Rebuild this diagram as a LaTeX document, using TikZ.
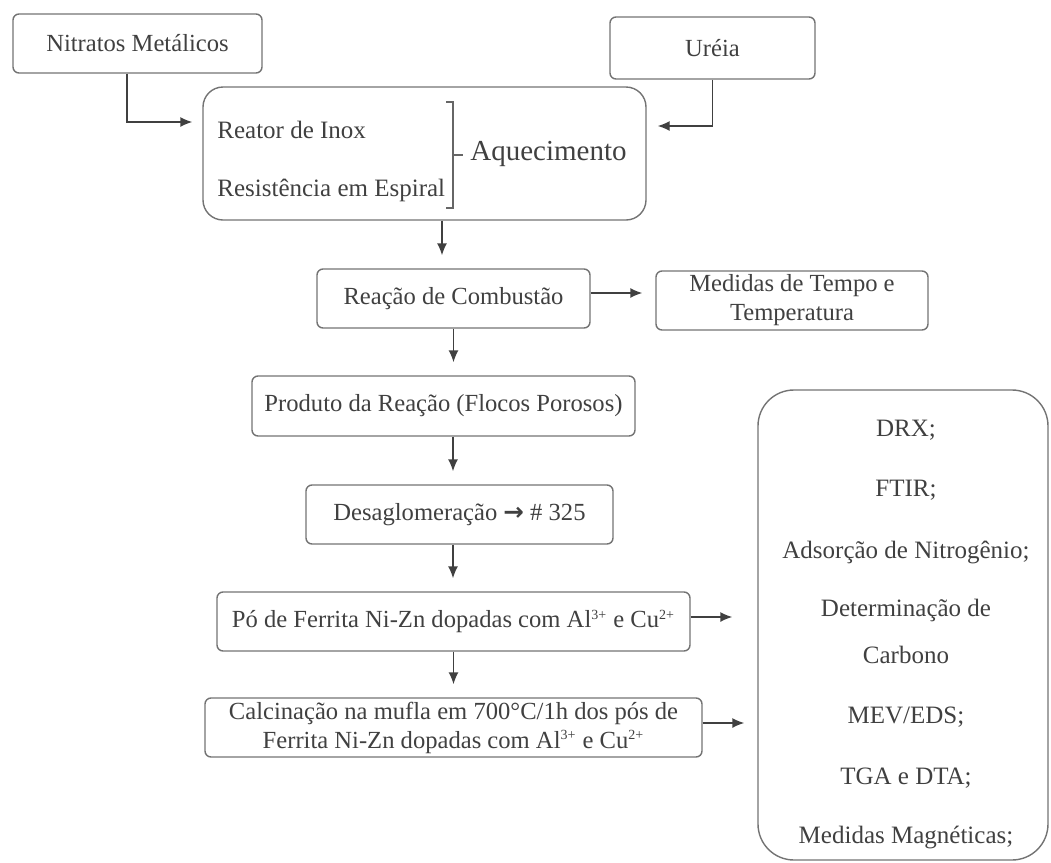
\documentclass[tikz,border=0pt]{standalone}
\usepackage{fontspec}
\setmainfont{Liberation Serif}
\newfontfamily\arrowfont{DejaVu Sans}
\usetikzlibrary{arrows.meta}
\usetikzlibrary{positioning}
\newcommand{\ionch}[1]{\textsuperscript{\scriptsize #1}}
\tikzstyle{stepbox}=[draw=black!55,line width=0.7pt,rounded corners=3pt,align=center,inner sep=0pt,text=black!75,font=\fontsize{12.3}{14.5}\selectfont]
\tikzstyle{heatbox}=[stepbox,rounded corners=10pt]
\tikzstyle{listbox}=[stepbox,rounded corners=18pt]
\tikzstyle{plaintext}=[inner sep=0pt,text=black!75,font=\fontsize{12.5}{14.5}\selectfont]
\tikzstyle{flow}=[draw=black!75,line width=0.7pt,-{Latex[length=6pt,width=5pt]},shorten >=6.5pt]
\tikzstyle{brace}=[draw=black!60,line width=0.7pt]

\begin{document}
\begin{tikzpicture}[x=0.5pt,y=-0.5pt]
    \useasboundingbox (0,0) rectangle (1051,863);
    % The inputs and the heating step
    \node[stepbox,minimum width=124.5pt,minimum height=29.5pt] (nitratos) at (137.5,43.5) {Nitratos Metálicos};
    \node[stepbox,minimum width=102.5pt,minimum height=31pt] (ureia) at (712.5,48) {Uréia};
    \node[heatbox,minimum width=221.5pt,minimum height=66.5pt] (aquec) at (424.5,153.5) {};
    \node[plaintext,anchor=west] (reator) at (217,130) {Reator de Inox};
    \node[plaintext,anchor=west] (resist) at (217,190) {Resistência em Espiral};
    \node[plaintext,anchor=west,font=\fontsize{14.5}{16}\selectfont] (aquecimento) at (470,154) {Aquecimento};
    \draw[brace] (446,102) -- (453,102) -- (453,208) -- (446,208);
    \draw[brace] (453,155) -- (463,155);

    % The main chain
    \node[stepbox,minimum width=136.5pt,minimum height=29.5pt] (combustao) at (453.5,298.5) {Reação de Combustão};
    \node[stepbox,minimum width=136pt,minimum height=29.5pt] (medidas) at (792,300.5) {Medidas de Tempo e\\Temperatura};
    \node[stepbox,minimum width=191.5pt,minimum height=30pt] (produto) at (443.5,406) {Produto da Reação (Flocos Porosos)};
    \node[stepbox,minimum width=153.5pt,minimum height=29.5pt] (desaglo) at (459.5,514.5) {Desaglomeração {\arrowfont\bfseries →} \# 325};
    \node[stepbox,minimum width=236.5pt,minimum height=29.5pt] (po) at (453.5,621.5) {Pó de Ferrita Ni-Zn dopadas com Al\ionch{3+} e Cu\ionch{2+}};
    \node[stepbox,minimum width=248.5pt,minimum height=29.5pt] (calc) at (453.5,727.5) {Calcinação na mufla em 700°C/1h dos pós de\\Ferrita Ni-Zn dopadas com Al\ionch{3+} e Cu\ionch{2+}};

    % The characterizations
    \node[listbox,minimum width=145pt,minimum height=235pt] (analises) at (903,625) {};
    \foreach \ypos/\name/\txt in {430/drx/{DRX;}, 490/ftir/{FTIR;}, 552/adsorcao/{Adsorção de Nitrogênio;}, 610/determ/{Determinação de}, 655/carbono/{Carbono}, 717/mev/{MEV/EDS;}, 778/tga/{TGA e DTA;}, 837/magn/{Medidas Magnéticas;}}
        \node[plaintext] (\name) at (906,\ypos) {\txt};

    % Connect the steps
    \draw[flow,shorten >=5pt] ([xshift=-5.25pt]nitratos.south) |- ([yshift=15.75pt]aquec.west);
    \draw[flow,shorten >=5.5pt] (ureia.south) |- ([yshift=13.75pt]aquec.east);
    \draw[flow] ([xshift=8.75pt]aquec.south) -- ([xshift=8.75pt]aquec.south |- combustao.north);
    \draw[flow] (combustao.south) -- (combustao.south |- produto.north);
    \draw[flow] ([xshift=4.75pt]produto.south) -- ([xshift=4.75pt]produto.south |- desaglo.north);
    \draw[flow] ([xshift=-3.25pt]desaglo.south) -- ([xshift=-3.25pt]desaglo.south |- po.north);
    \draw[flow] (po.south) -- (calc.north);
    \draw[flow] ([yshift=2.75pt]combustao.east) -- ([yshift=2.75pt]combustao.east -| medidas.west);
    \draw[flow,shorten >=12.5pt] ([yshift=2.25pt]po.east) -- ([yshift=2.25pt]po.east -| analises.west);
    \draw[flow] ([yshift=2.25pt]calc.east) -- ([yshift=2.25pt]calc.east -| analises.west);
\end{tikzpicture}
\end{document}
